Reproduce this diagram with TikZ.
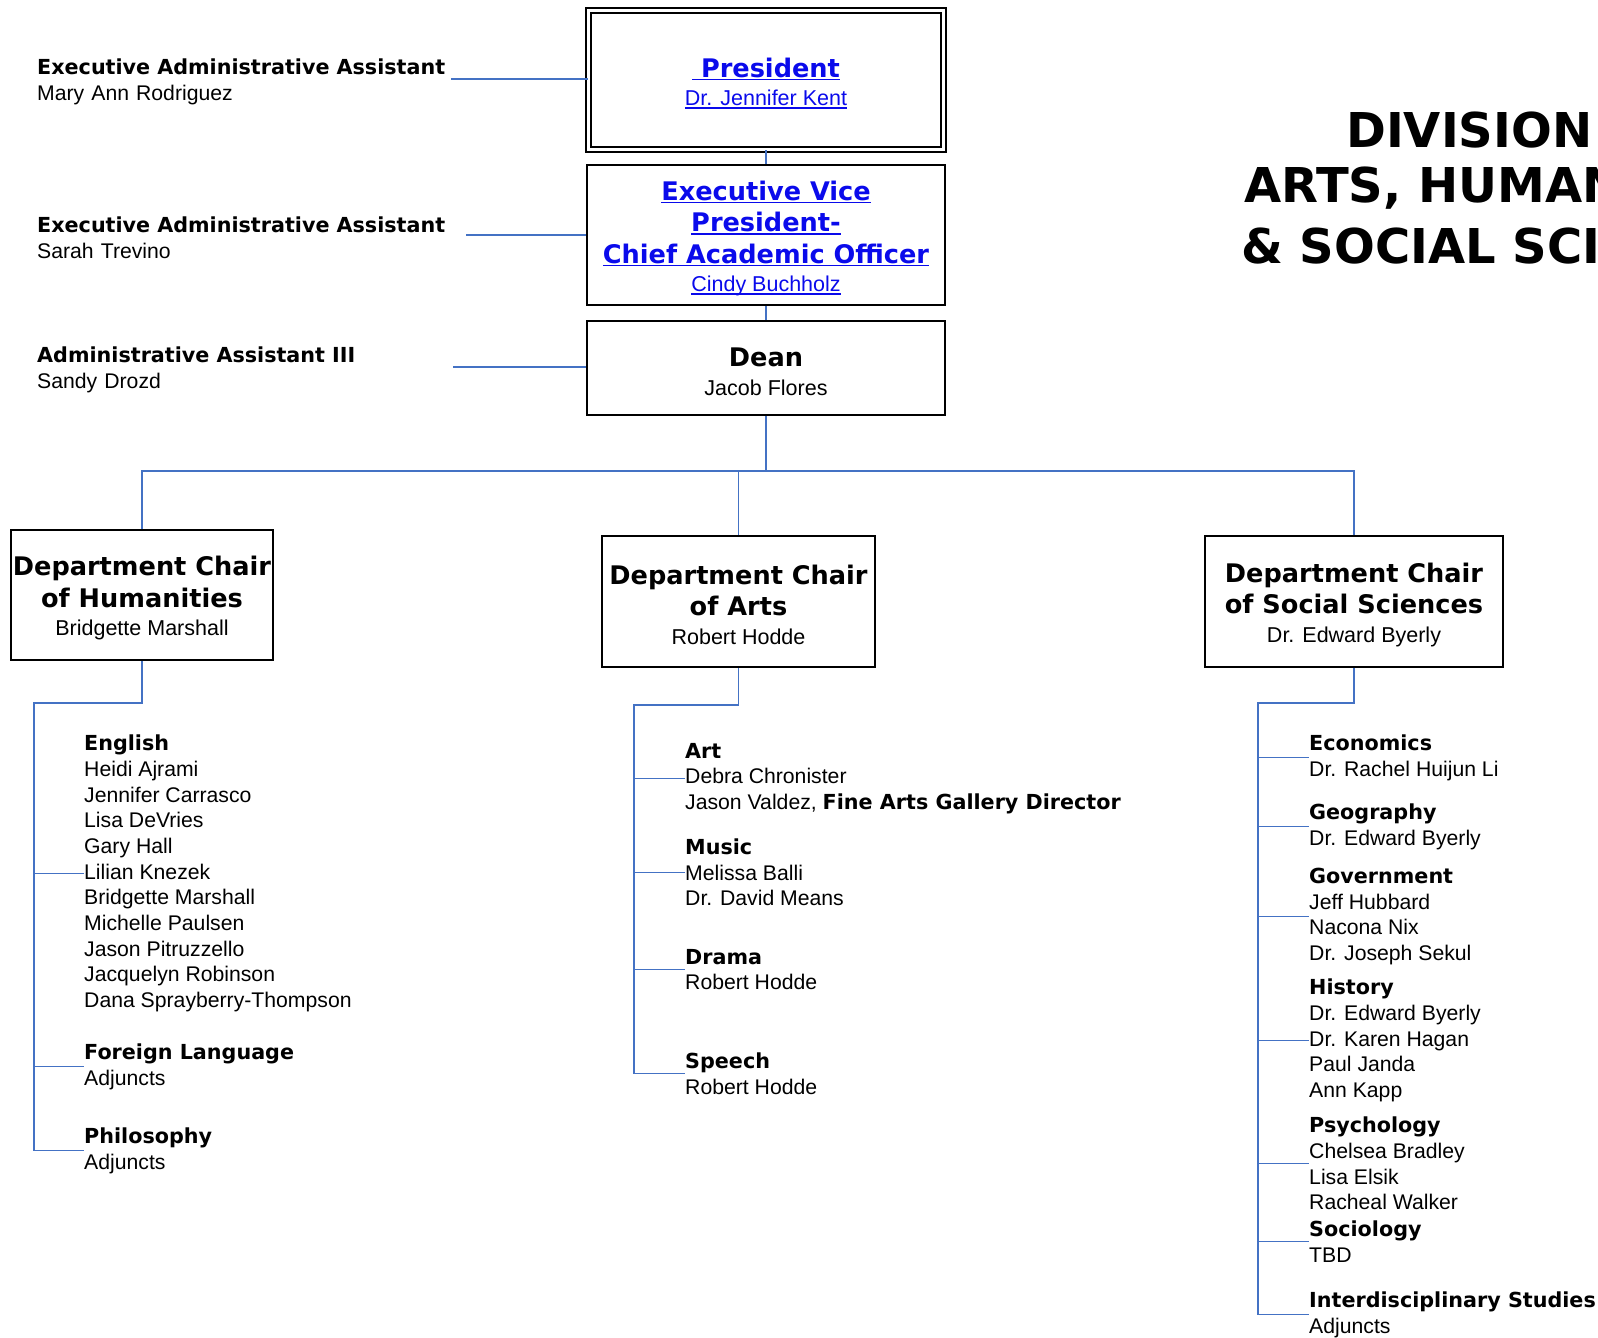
\documentclass[tikz,border=0pt]{standalone}
\usepackage{fontspec}
\setmainfont{Liberation Sans}
\newfontfamily\heavyfont{DejaVu Sans}
\usetikzlibrary{positioning}

\definecolor{linkblue}{RGB}{10,10,235}
\definecolor{linecol}{RGB}{68,114,196}

\newcommand{\hd}[1]{{\heavyfont\bfseries #1}}
\newcommand{\lh}[1]{{\fontsize{20.7}{25.7}\selectfont\heavyfont\bfseries #1}}
\newcommand{\nm}{\fontsize{21.5}{25}\selectfont}
\newcommand{\up}{\rule{0pt}{26pt}}
\newcommand{\lnk}[1]{\leavevmode\setbox0=\hbox{#1}\rlap{\rule[-3pt]{\wd0}{1.5pt}}\box0}

\begin{document}
\begin{tikzpicture}[x=1pt, y=-1pt,
    box/.style={draw, line width=1.9pt, align=center, inner sep=0pt,
        font=\fontsize{25.6}{31.5}\selectfont},
    topbox/.style={box, minimum width=358pt},
    deptbox/.style={box, minimum height=131pt},
    entry/.style={anchor=west, align=left, inner sep=0pt,
        font=\fontsize{21.2}{25.7}\selectfont},
    asst/.style={entry, execute at begin node=\rule{0pt}{21pt}},
    title/.style={anchor=west, inner sep=0pt,
        font=\heavyfont\bfseries\fontsize{48}{57}\selectfont},
    link/.style={draw=linecol, line width=1.6pt}]

    \useasboundingbox (0,0) rectangle (1598,1338);
    \clip (0,0) rectangle (1598,1338);

    % title
    \node[title] (title1) at (1346,130) {DIVISION};
    \node[title] (title2) at (1244,188) {ARTS, HUMAN};
    \node[title] (title3) at (1241,246) {\& SOCIAL SCI};

    % top of the chart
    \node[topbox, double, double distance=3.2pt, minimum width=355pt, minimum height=139pt, text=linkblue]
        (pres) at (766,80) {\up\lnk{\hd{\ President}}\\[-3pt]{\nm\lnk{Dr. Jennifer Kent}}};
    \node[topbox, minimum height=140pt, text=linkblue] (evp) at (766,235)
        {\up\lnk{\hd{Executive Vice}}\\\lnk{\hd{President-}}\\\lnk{\hd{Chief Academic Officer}}\\[-3pt]{\nm\lnk{Cindy Buchholz}}};
    \node[topbox, minimum height=94pt] (dean) at (766,368) {\up\hd{Dean}\\[-3pt]{\nm Jacob Flores}};

    % assistants
    \node[asst, text width=414pt] (asst1) at (37,79) {\lh{Executive Administrative Assistant}\\Mary Ann Rodriguez};
    \node[asst, text width=429pt] (asst2) at (37,235) {\lh{Executive Administrative Assistant}\\Sarah Trevino};
    \node[asst, text width=416pt] (asst3) at (37,367) {\lh{Administrative Assistant III}\\Sandy Drozd};

    % department chairs
    \node[deptbox, minimum width=262pt, minimum height=130pt] (hum) at (142,595)
        {\up\hd{Department Chair}\\\hd{of Humanities}\\[-3pt]{\nm Bridgette Marshall}};
    \node[deptbox, minimum width=273pt] (arts) at (738.5,601.5)
        {\up\hd{Department Chair}\\\hd{of Arts}\\[-3pt]{\nm Robert Hodde}};
    \node[deptbox, minimum width=298pt] (soc) at (1354,601.5)
        {\up\hd{Department Chair}\\\hd{of Social Sciences}\\[-3pt]{\nm Dr. Edward Byerly}};

    % humanities
    \node[entry] (english) at (84,873.5) {\lh{English}\\Heidi Ajrami\\Jennifer Carrasco\\Lisa DeVries\\Gary Hall\\Lilian Knezek\\Bridgette Marshall\\Michelle Paulsen\\Jason Pitruzzello\\Jacquelyn Robinson\\Dana Sprayberry-Thompson};
    \node[entry] (forlang) at (84,1066.5) {\lh{Foreign Language}\\Adjuncts};
    \node[entry] (philo) at (84,1150.5) {\lh{Philosophy}\\Adjuncts};

    % arts
    \node[entry] (art) at (685,778.5) {\lh{Art}\\Debra Chronister\\Jason Valdez, \lh{Fine Arts Gallery Director}};
    \node[entry] (music) at (685,872.5) {\lh{Music}\\Melissa Balli\\Dr. David Means};
    \node[entry] (drama) at (685,969.5) {\lh{Drama}\\Robert Hodde};
    \node[entry] (speech) at (685,1073.5) {\lh{Speech}\\Robert Hodde};

    % social sciences
    \node[entry] (econ) at (1309,757.5) {\lh{Economics}\\Dr. Rachel Huijun Li};
    \node[entry] (geog) at (1309,826.5) {\lh{Geography}\\Dr. Edward Byerly};
    \node[entry] (govt) at (1309,916.5) {\lh{Government}\\Jeff Hubbard\\Nacona Nix\\Dr. Joseph Sekul};
    \node[entry] (hist) at (1309,1040.5) {\lh{History}\\Dr. Edward Byerly\\Dr. Karen Hagan\\Paul Janda\\Ann Kapp};
    \node[entry] (psych) at (1309,1163.5) {\lh{Psychology}\\Chelsea Bradley\\Lisa Elsik\\Racheal Walker};
    \node[entry] (socio) at (1309,1241.5) {\lh{Sociology}\\TBD};
    \node[entry] (inter) at (1309,1314.5) {\lh{Interdisciplinary Studies}\\Adjuncts};

    % connectors
    \coordinate (bus) at (766,471);
    \coordinate (humtop) at (34,703);
    \coordinate (artstop) at (634,705);
    \coordinate (soctop) at (1258,703);

    \draw[link] (pres.south) -- (evp.north);
    \draw[link] (evp.south) -- (dean.north);
    \draw[link] (dean.south) -- (bus);
    \draw[link] (hum.north) |- (bus) -| (soc.north);
    \draw[link] (arts.north) -- (arts.north |- bus);

    \draw[link] (asst1.east) -- (asst1.east -| pres.west);
    \draw[link] (asst2.east) -- (asst2.east -| evp.west);
    \draw[link] (asst3.east) -- (asst3.east -| dean.west);

    \draw[link] (hum.south) |- (humtop) |- (philo.west);
    \draw[link] (humtop |- english.west) -- (english.west);
    \draw[link] (humtop |- forlang.west) -- (forlang.west);

    \draw[link] (arts.south) |- (artstop) |- (speech.west);
    \foreach \n in {art, music, drama}
        \draw[link] (artstop |- \n.west) -- (\n.west);

    \draw[link] (soc.south) |- (soctop) |- (inter.west);
    \foreach \n in {econ, geog, govt, hist, psych, socio}
        \draw[link] (soctop |- \n.west) -- (\n.west);
\end{tikzpicture}
\end{document}
